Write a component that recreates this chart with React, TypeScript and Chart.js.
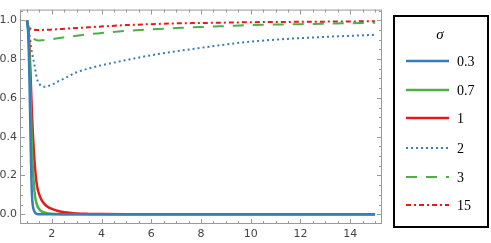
import React, { useEffect, useRef } from "react";
import { Chart, registerables } from "chart.js";

Chart.register(...registerables);

const X_VALUES = [1, 1.05, 1.1, 1.15, 1.2, 1.3, 1.4, 1.5, 1.6, 1.7, 1.8, 2, 2.25, 2.5, 3, 3.5, 4, 5, 6, 7, 8, 9, 10, 12, 15];
const S03 = [1, 0.93, 0.7, 0.35, 0.1, 0.015, 0.002, 0, 0, 0, 0, 0, 0, 0, 0, 0, 0, 0, 0, 0, 0, 0, 0, 0, 0];
const S07 = [1, 0.95, 0.82, 0.56, 0.34, 0.12, 0.05, 0.025, 0.014, 0.009, 0.006, 0.003, 0.001, 0, 0, 0, 0, 0, 0, 0, 0, 0, 0, 0, 0];
const S1 = [1, 0.96, 0.86, 0.7, 0.52, 0.28, 0.15, 0.1, 0.07, 0.054, 0.042, 0.028, 0.017, 0.01, 0.004, 0.002, 0.001, 0, 0, 0, 0, 0, 0, 0, 0];
const S2 = [1, 0.97, 0.93, 0.88, 0.835, 0.77, 0.7, 0.672, 0.66, 0.657, 0.659, 0.668, 0.685, 0.7, 0.732, 0.752, 0.768, 0.795, 0.82, 0.84, 0.858, 0.875, 0.89, 0.908, 0.925];
const S3 = [1, 0.97, 0.95, 0.93, 0.915, 0.903, 0.897, 0.896, 0.897, 0.898, 0.9, 0.903, 0.907, 0.912, 0.92, 0.928, 0.935, 0.945, 0.953, 0.96, 0.965, 0.97, 0.975, 0.98, 0.987];
const S15 = [1, 0.975, 0.962, 0.956, 0.953, 0.951, 0.95, 0.95, 0.95, 0.951, 0.951, 0.952, 0.954, 0.956, 0.96, 0.964, 0.968, 0.975, 0.98, 0.984, 0.986, 0.988, 0.99, 0.992, 0.995];

const SERIES_LABELS = ["0.3", "0.7", "1", "2", "3", "15"];
const SERIES_VALUES = [S03, S07, S1, S2, S3, S15];
const X_TICK_LABELS = [2, 4, 6, 8, 10, 12, 14];
const Y_TICK_LABELS = [0, 0.2, 0.4, 0.6, 0.8, 1.0];

const BLUE = "#377EB8";
const GREEN = "#4DAF4A";
const RED = "#E41A1C";
const STYLES = [
  { color: BLUE, width: 2.5, dash: [] as number[] },
  { color: GREEN, width: 2.5, dash: [] as number[] },
  { color: RED, width: 2.5, dash: [] as number[] },
  { color: BLUE, width: 2, dash: [2, 3] },
  { color: GREEN, width: 2, dash: [11, 9] },
  { color: RED, width: 2, dash: [5, 3, 2, 3] },
];

const frameTicksPlugin = {
  id: "frameTicks",
  afterDatasetsDraw(chart: any) {
    const { ctx, chartArea: a, scales } = chart;
    const xs = scales.x;
    const ys = scales.y;
    ctx.save();
    ctx.strokeStyle = "#9a9a9a";
    ctx.lineWidth = 1;
    ctx.strokeRect(a.left + 0.5, a.top + 0.5, a.right - a.left - 1, a.bottom - a.top - 1);
    ctx.beginPath();
    for (let i = 2; i <= 30; i++) {
      const v = i / 2;
      const major = v % 2 === 0;
      const len = major ? 5 : 3;
      const px = Math.round(xs.getPixelForValue(v)) + 0.5;
      ctx.moveTo(px, a.bottom);
      ctx.lineTo(px, a.bottom - len);
      ctx.moveTo(px, a.top);
      ctx.lineTo(px, a.top + len);
    }
    for (let i = -1; i <= 21; i++) {
      const v = i * 0.05;
      const major = i % 4 === 0 && i >= 0;
      const len = major ? 5 : 3;
      const py = Math.round(ys.getPixelForValue(v)) + 0.5;
      if (py < a.top || py > a.bottom) continue;
      ctx.moveTo(a.left, py);
      ctx.lineTo(a.left + len, py);
      ctx.moveTo(a.right, py);
      ctx.lineTo(a.right - len, py);
    }
    ctx.stroke();
    ctx.restore();
  },
};

const legendPlugin = {
  id: "customLegend",
  afterDraw(chart: any) {
    const ctx = chart.ctx;
    ctx.save();
    ctx.strokeStyle = "#000";
    ctx.lineWidth = 2;
    ctx.strokeRect(394, 16, 94, 211);
    ctx.fillStyle = "#000";
    ctx.textBaseline = "middle";
    ctx.textAlign = "center";
    ctx.font = "italic 15px 'Liberation Serif'";
    ctx.fillText("σ", 440, 35);
    const ys = [61, 90, 118, 148, 177, 205];
    chart.data.datasets.forEach((ds: any, i: number) => {
      ctx.beginPath();
      ctx.strokeStyle = ds.borderColor;
      ctx.lineWidth = ds.borderWidth;
      ctx.setLineDash(ds.borderDash || []);
      ctx.moveTo(406, ys[i]);
      ctx.lineTo(449, ys[i]);
      ctx.stroke();
      ctx.setLineDash([]);
      ctx.fillStyle = "#000";
      ctx.textAlign = "left";
      ctx.font = "14px 'Liberation Serif'";
      ctx.fillText(ds.label, 457, ys[i] + 1);
    });
    ctx.restore();
  },
};

export default function App() {
  const ref = useRef<HTMLCanvasElement>(null);
  useEffect(() => {
    if (!ref.current) return;
    const datasets = SERIES_VALUES.map((vals, i) => ({
      label: SERIES_LABELS[i],
      data: X_VALUES.map((x, j) => ({ x, y: vals[j] })),
      borderColor: STYLES[i].color,
      borderWidth: STYLES[i].width,
      borderDash: STYLES[i].dash,
      pointRadius: 0,
      cubicInterpolationMode: "monotone" as const,
      fill: false,
    }));
    const chart = new Chart(ref.current, {
      type: "line",
      data: { datasets },
      plugins: [frameTicksPlugin, legendPlugin],
      options: {
        animation: false,
        responsive: false,
        maintainAspectRatio: false,
        layout: { padding: { left: 0, top: 3, right: 109, bottom: 0 } },
        plugins: { legend: { display: false }, tooltip: { enabled: false } },
        scales: {
          x: {
            type: "linear",
            min: 0.72,
            max: 15.28,
            grid: { display: false, drawTicks: false, tickLength: 0 },
            border: { display: false },
            afterBuildTicks: (s: any) => {
              s.ticks = X_TICK_LABELS.map((v) => ({ value: v }));
            },
            afterFit: (s: any) => {
              s.height = 19;
            },
            ticks: {
              padding: 4,
              color: "#444",
              font: { family: "'DejaVu Sans'", size: 11 },
              maxRotation: 0,
              autoSkip: false,
              callback: (v: any) => String(v),
            },
          },
          y: {
            type: "linear",
            min: -0.05,
            max: 1.055,
            grid: { display: false, drawTicks: false, tickLength: 0 },
            border: { display: false },
            afterBuildTicks: (s: any) => {
              s.ticks = Y_TICK_LABELS.map((v) => ({ value: v }));
            },
            afterFit: (s: any) => {
              s.width = 20;
            },
            ticks: {
              padding: 3,
              color: "#444",
              font: { family: "'DejaVu Sans'", size: 11 },
              autoSkip: false,
              callback: (v: any) => Number(v).toFixed(1),
            },
          },
        },
      },
    });
    return () => chart.destroy();
  }, []);
  return (
    <div style={{ position: "fixed", left: 0, top: 0, width: 491, height: 243, background: "#fff" }}>
      <canvas ref={ref} width={491} height={243} style={{ width: 491, height: 243 }} />
    </div>
  );
}
